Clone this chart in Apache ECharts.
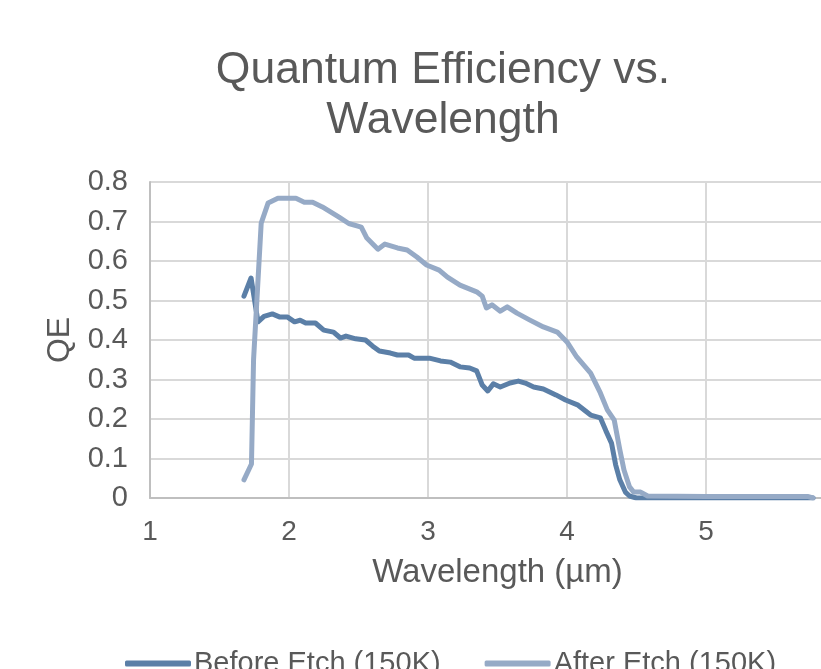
<!DOCTYPE html>
<html>
<head>
<meta charset="utf-8">
<script src="https://cdn.jsdelivr.net/npm/echarts@6/dist/echarts.min.js"></script>
<style>
  html, body { margin: 0; padding: 0; background: #fff; }
  #chart { width: 821px; height: 669px; }
</style>
</head>
<body>
<div id="chart"></div>
<script>
// wavelength (um) and QE
var beforeX = [1.676, 1.727, 1.777, 1.82, 1.88, 1.935, 1.99, 2.04, 2.08, 2.12, 2.19, 2.25, 2.32, 2.37, 2.41, 2.48, 2.55, 2.60, 2.65, 2.73, 2.78, 2.86, 2.90, 3.01, 3.09, 3.16, 3.23, 3.30, 3.35, 3.39, 3.43, 3.47, 3.52, 3.59, 3.65, 3.70, 3.76, 3.83, 3.92, 3.99, 4.08, 4.17, 4.24, 4.28, 4.32, 4.35, 4.38, 4.42, 4.45, 4.50, 5.0, 5.73, 5.77];
var beforeY = [0.511, 0.557, 0.446, 0.46, 0.466, 0.458, 0.458, 0.446, 0.45, 0.443, 0.443, 0.425, 0.42, 0.405, 0.41, 0.403, 0.40, 0.385, 0.372, 0.367, 0.362, 0.362, 0.354, 0.354, 0.347, 0.344, 0.332, 0.329, 0.322, 0.286, 0.271, 0.289, 0.281, 0.291, 0.296, 0.291, 0.281, 0.276, 0.261, 0.248, 0.235, 0.21, 0.203, 0.170, 0.139, 0.084, 0.046, 0.015, 0.005, 0.0, 0.0, 0.0, 0.0];

var afterX = [1.676, 1.73, 1.745, 1.80, 1.85, 1.92, 2.05, 2.11, 2.17, 2.24, 2.36, 2.43, 2.52, 2.56, 2.64, 2.69, 2.78, 2.85, 2.92, 2.99, 3.08, 3.14, 3.23, 3.35, 3.39, 3.42, 3.46, 3.52, 3.57, 3.64, 3.73, 3.83, 3.93, 4.00, 4.07, 4.17, 4.24, 4.29, 4.34, 4.38, 4.41, 4.45, 4.48, 4.53, 4.58, 5.0, 5.73, 5.77];
var afterY = [0.046, 0.086, 0.35, 0.696, 0.747, 0.759, 0.759, 0.749, 0.749, 0.737, 0.711, 0.695, 0.686, 0.658, 0.630, 0.643, 0.633, 0.628, 0.610, 0.590, 0.577, 0.559, 0.539, 0.522, 0.511, 0.481, 0.489, 0.473, 0.484, 0.468, 0.451, 0.433, 0.420, 0.395, 0.357, 0.316, 0.266, 0.223, 0.197, 0.122, 0.071, 0.028, 0.015, 0.015, 0.005, 0.004, 0.004, 0.0];

var yTicks = ['0', '0.1', '0.2', '0.3', '0.4', '0.5', '0.6', '0.7', '0.8'];

function pairs(xs, ys) {
	var out = [];
	for (var i = 0; i < xs.length; i++) out.push([xs[i], ys[i]]);
	return out;
}

var chart = echarts.init(document.getElementById('chart'));
var txt = '#595959';
var font = 'Liberation Sans, Arial, sans-serif';

var option = {
	animation: false,
	title: {
		text: 'Quantum Efficiency vs.\nWavelength',
		left: 438,
		textAlign: 'center',
		top: 41,
		textStyle: { color: txt, fontFamily: font, fontWeight: 'normal', fontSize: 44.5, lineHeight: 50 }
	},
	legend: {
		data: ['Before Etch (150K)', 'After Etch (150K)'],
		left: 120,
		top: 644,
		icon: 'roundRect',
		itemWidth: 66,
		itemHeight: 6,
		itemGap: 44,
		textStyle: { color: txt, fontFamily: font, fontSize: 29, padding: [0, 0, 0, -2] }
	},
	// the plot runs past the right edge of the picture (x = 6 falls outside)
	grid: { left: 150, top: 182, bottom: 171, width: 695, outerBoundsMode: 'none', containLabel: false },
	xAxis: {
		type: 'value',
		min: 1, max: 6, interval: 1,
		name: 'Wavelength (µm)',
		nameLocation: 'middle',
		nameGap: 58,
		nameTextStyle: { color: txt, fontFamily: font, fontSize: 33 },
		axisLine: { show: true, lineStyle: { color: '#bfbfbf', width: 2 } },
		axisTick: { show: false },
		axisLabel: { color: txt, fontFamily: font, fontSize: 28, margin: 20, showMaxLabel: false },
		splitLine: { show: true, lineStyle: { color: '#d9d9d9', width: 2 } }
	},
	yAxis: {
		type: 'value',
		min: 0, max: 0.8, interval: 0.1,
		name: 'QE',
		nameLocation: 'middle',
		nameGap: 74,
		nameRotate: 90,
		nameTextStyle: { color: txt, fontFamily: font, fontSize: 32 },
		axisLine: { show: true, lineStyle: { color: '#bfbfbf', width: 2 } },
		axisTick: { show: false },
		axisLabel: {
			color: txt, fontFamily: font, fontSize: 29, margin: 22,
			formatter: function (v) { return yTicks[Math.round(v * 10)]; }
		},
		splitLine: { show: true, lineStyle: { color: '#d9d9d9', width: 2 } }
	},
	series: [
		{
			name: 'Before Etch (150K)',
			type: 'line',
			showSymbol: false,
			symbol: 'none',
			color: '#5b7fa7',
			lineStyle: { width: 5, color: '#5b7fa7', cap: 'round', join: 'round' },
			data: pairs(beforeX, beforeY)
		},
		{
			name: 'After Etch (150K)',
			type: 'line',
			showSymbol: false,
			symbol: 'none',
			color: '#96aac6',
			lineStyle: { width: 5, color: '#96aac6', cap: 'round', join: 'round' },
			data: pairs(afterX, afterY)
		}
	]
};
chart.setOption(option);
</script>
</body>
</html>
